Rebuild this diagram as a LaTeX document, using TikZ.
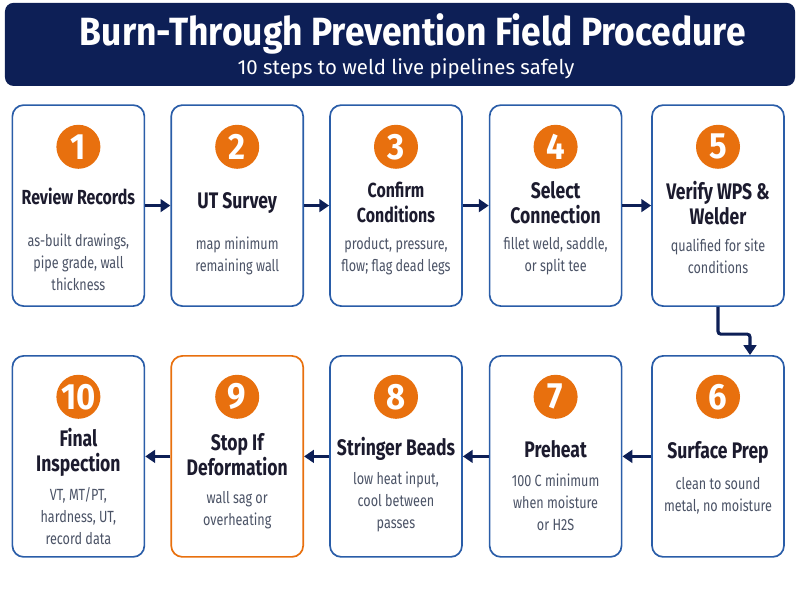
\documentclass[tikz,border=0pt]{standalone}
\usepackage{fontspec}
\setmainfont{Fira Sans}[FakeStretch=0.78]
\newfontfamily\headfont{Fira Sans}[FakeStretch=0.9]
\newfontfamily\subfont{Fira Sans}
\usetikzlibrary{arrows.meta,positioning}
\definecolor{bpnavy}{HTML}{0D1F56}
\definecolor{bpblue}{HTML}{2A5DA8}
\definecolor{bporange}{HTML}{E8700E}
\definecolor{bpink}{HTML}{1C1B2E}
\definecolor{bpgray}{HTML}{4B5366}

\tikzset{
  stepbox/.style={draw=bpblue, line width=1.2pt, rounded corners=8pt, fill=white,
    minimum width=3.3cm, minimum height=5.025cm},
  numdot/.style={circle, fill=bporange, text=white, minimum size=1.1cm, inner sep=0pt,
    font=\headfont\fontsize{26}{26}\selectfont\bfseries},
  steptitle/.style={text=bpink, align=center, font=\fontsize{16}{17.7}\selectfont\bfseries},
  smalltitle/.style={steptitle, font=\fontsize{14.5}{17.7}\selectfont\bfseries},
  stepnote/.style={text=bpgray, align=center, font=\fontsize{11.5}{15.6}\selectfont},
  flow/.style={-{Triangle[length=7pt,width=9pt]}, line width=2.2pt, draw=bpnavy},
}

\begin{document}
\begin{tikzpicture}
    \useasboundingbox (0,0) rectangle (20,15);

    % header
    \node[fill=bpnavy, rounded corners=6pt, minimum width=19.75cm, minimum height=2.075cm] (banner) at (10, 13.89) {};
    \node[text=white, font=\headfont\fontsize{28}{28}\selectfont\bfseries] (title) at (10.32, 14.14) {Burn-Through Prevention Field Procedure};
    \node[text=white, font=\subfont\fontsize{14.5}{14.5}\selectfont] (subtitle) at (10.15, 13.28) {10 steps to weld live pipelines safely};

    % top row
    \node[stepbox] (b1) at (1.96, 9.86) {};
    \node[numdot] (n1) at (1.96, 11.33) {1};
    \node[smalltitle] (t1) at (1.96, 10.1) {Review Records};
    \node[stepnote] (d1) at (1.96, 8.45) {as-built drawings,\\pipe grade, wall\\thickness};

    \node[stepbox] (b2) at (5.93, 9.86) {};
    \node[numdot] (n2) at (5.93, 11.33) {2};
    \node[steptitle] (t2) at (5.93, 9.93) {UT Survey};
    \node[stepnote] (d2) at (5.93, 8.6) {map minimum\\remaining wall};

    \node[stepbox] (b3) at (9.9, 9.86) {};
    \node[numdot] (n3) at (9.9, 11.33) {3};
    \node[smalltitle] (t3) at (9.9, 9.93) {Confirm\\Conditions};
    \node[stepnote] (d3) at (9.9, 8.6) {product, pressure,\\flow; flag dead legs};

    \node[stepbox] (b4) at (13.89, 9.86) {};
    \node[numdot] (n4) at (13.89, 11.33) {4};
    \node[steptitle] (t4) at (13.89, 9.93) {Select\\Connection};
    \node[stepnote] (d4) at (13.89, 8.6) {fillet weld, saddle,\\or split tee};

    \node[stepbox] (b5) at (17.95, 9.86) {};
    \node[numdot] (n5) at (17.95, 11.33) {5};
    \node[steptitle] (t5) at (17.95, 9.93) {Verify WPS \&\\Welder};
    \node[stepnote] (d5) at (17.95, 8.6) {qualified for site\\conditions};

    % bottom row
    \node[stepbox] (b6) at (17.95, 3.59) {};
    \node[numdot] (n6) at (17.95, 5.08) {6};
    \node[steptitle] (t6) at (17.95, 3.7) {Surface Prep};
    \node[stepnote] (d6) at (17.95, 2.6) {clean to sound\\metal, no moisture};

    \node[stepbox] (b7) at (13.89, 3.59) {};
    \node[numdot] (n7) at (13.89, 5.08) {7};
    \node[steptitle] (t7) at (13.89, 3.78) {Preheat};
    \node[stepnote] (d7) at (13.89, 2.45) {100 C minimum\\when moisture\\or H2S};

    \node[stepbox] (b8) at (9.9, 3.59) {};
    \node[numdot] (n8) at (9.9, 5.08) {8};
    \node[steptitle] (t8) at (9.9, 3.78) {Stringer Beads};
    \node[stepnote] (d8) at (9.9, 2.45) {low heat input,\\cool between\\passes};

    \node[stepbox, draw=bporange] (b9) at (5.93, 3.59) {};
    \node[numdot] (n9) at (5.93, 5.08) {9};
    \node[steptitle] (t9) at (5.93, 3.63) {Stop If\\Deformation};
    \node[stepnote] (d9) at (5.93, 2.25) {wall sag or\\overheating};

    \node[stepbox] (b10) at (1.96, 3.59) {};
    \node[numdot] (n10) at (1.96, 5.08) {10};
    \node[steptitle] (t10) at (1.96, 3.7) {Final\\Inspection};
    \node[stepnote] (d10) at (1.96, 2.1) {VT, MT/PT,\\hardness, UT,\\record data};

    % connectors
    \draw[flow] (b1.east) -- (b2.west);
    \draw[flow] (b2.east) -- (b3.west);
    \draw[flow] (b3.east) -- (b4.west);
    \draw[flow] (b4.east) -- (b5.west);
    \draw[flow, rounded corners=2pt] (b5.south) -- ++(0,-0.68) -| ([xshift=0.8cm]b6.north);
    \draw[flow] (b6.west) -- (b7.east);
    \draw[flow] (b7.west) -- (b8.east);
    \draw[flow] (b8.west) -- (b9.east);
    \draw[flow] (b9.west) -- (b10.east);
\end{tikzpicture}
\end{document}
